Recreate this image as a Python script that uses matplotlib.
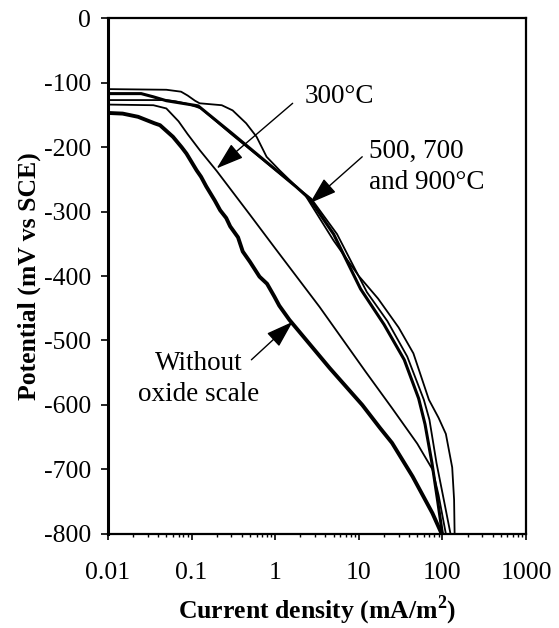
import matplotlib
matplotlib.use("Agg")
import matplotlib.pyplot as plt
from matplotlib.ticker import FixedLocator, FixedFormatter, LogLocator, NullFormatter

plt.rcParams['font.family'] = ['Liberation Serif', 'DejaVu Serif']
plt.rcParams['axes.unicode_minus'] = False
plt.rcParams['mathtext.fontset'] = 'custom'
plt.rcParams['mathtext.rm'] = 'Liberation Serif'
plt.rcParams['mathtext.bf'] = 'Liberation Serif:bold'

# Without oxide scale (thick)
x_none = [0.01, 0.015, 0.023, 0.036, 0.042, 0.06, 0.076, 0.087, 0.115, 0.13, 0.15, 0.19, 0.22, 0.26, 0.29, 0.36, 0.41, 0.5, 0.65, 0.8, 0.98, 1.12, 1.48, 4.5, 11, 18, 25, 44, 76, 98]
y_none = [-147, -148, -153, -163, -166, -184, -200, -210, -236, -246, -261, -283, -298, -310, -323, -340, -362, -378, -401, -412, -432, -446, -468, -543, -600, -636, -659, -711, -768, -800]

# 300 C (thin)
x_300 = [0.01, 0.035, 0.05, 0.07, 0.09, 0.126, 0.2, 0.5, 1, 3.4, 12, 25, 50, 76, 90, 110]
y_300 = [-134, -135, -140, -160, -180, -205, -237, -305, -357, -448, -548, -605, -660, -700, -740, -800]

# 500/700/900 C - thick curve
x_hot1 = [0.01, 0.025, 0.035, 0.05, 0.12, 0.3, 0.8, 1.8, 2.57, 5, 10.5, 20, 35, 52, 62, 75, 88, 100]
y_hot1 = [-117, -117, -122, -128, -136, -178, -224, -262, -280, -335, -420, -475, -530, -590, -630, -690, -750, -800]

# 500/700/900 C - thin curve
x_hot2 = [0.01, 0.05, 0.065, 0.09, 0.13, 0.3, 0.8, 1.8, 2.7, 5.5, 12.5, 22, 38, 60, 70, 85, 105, 125]
y_hot2 = [-127, -127, -129, -133, -140, -180, -225, -262, -280, -335, -425, -470, -525, -592, -623, -690, -750, -800]

# 500/700/900 C - outer thin curve
x_hot3 = [0.01, 0.05, 0.075, 0.09, 0.11, 0.125, 0.23, 0.31, 0.45, 0.6, 0.79, 1.13, 1.6, 2.3, 5, 10, 17, 30, 45, 69, 90, 110, 131, 138, 140]
y_hot3 = [-110, -111, -114, -120, -128, -132, -135, -143, -163, -184, -215, -236, -255, -275, -345, -400, -435, -480, -520, -592, -620, -645, -697, -747, -800]

x_ticks = [0.01, 0.1, 1, 10, 100, 1000]
x_ticklabels = ["0.01", "0.1", "1", "10", "100", "1000"]
y_ticks = [0, -100, -200, -300, -400, -500, -600, -700, -800]

fig = plt.figure(figsize=(5.59, 6.28), dpi=100)
ax = fig.add_axes([0.193, 0.150, 0.748, 0.821])

ax.plot(x_none, y_none, color='black', lw=2.8, solid_joinstyle='round')
ax.plot(x_300, y_300, color='black', lw=1.3)
ax.plot(x_hot1, y_hot1, color='black', lw=2.2)
ax.plot(x_hot2, y_hot2, color='black', lw=1.3)
ax.plot(x_hot3, y_hot3, color='black', lw=1.3)

ax.set_xscale('log')
ax.set_xlim(0.01, 1000)
ax.set_ylim(-800, 0)
ax.xaxis.set_major_locator(FixedLocator(x_ticks))
ax.xaxis.set_major_formatter(FixedFormatter(x_ticklabels))
ax.xaxis.set_minor_locator(LogLocator(base=10, subs=range(2, 10)))
ax.xaxis.set_minor_formatter(NullFormatter())
ax.set_yticks(y_ticks)
ax.set_yticklabels([str(v) for v in y_ticks])

ax.tick_params(axis='x', which='major', labelsize=18.5, direction='out', length=4, width=1.2, pad=16)
ax.tick_params(axis='x', which='minor', direction='out', length=2.5, width=1.0)
ax.tick_params(axis='y', which='major', labelsize=18.5, direction='out', length=5, width=1.2, pad=7)
for s in ax.spines.values():
    s.set_linewidth(1.6)
ax.spines['left'].set_linewidth(2.2)

ax.set_xlabel("Current density (mA/m$^{\\mathbf{2}}$)", fontsize=18.5, fontweight='bold', labelpad=7)
ax.set_ylabel("Potential (mV vs SCE)", fontsize=18.5, fontweight='bold', labelpad=2)

arrow = dict(arrowstyle='-|>,head_length=0.85,head_width=0.28', color='black', lw=1.0,
             mutation_scale=20, shrinkA=0, shrinkB=0)
ax.annotate("", xy=(0.2, -233), xytext=(1.62, -132), arrowprops=arrow)
ax.annotate("", xy=(2.6, -287), xytext=(11, -215), arrowprops=arrow)
ax.annotate("", xy=(1.62, -471), xytext=(0.52, -530), arrowprops=arrow)

ax.text(2.24, -122, "300°C", fontsize=19.5, ha='left', va='center')
ax.text(13.4, -231, "500, 700\nand 900°C", fontsize=19.5, ha='left', va='center', linespacing=1.3)
ax.text(0.122, -560, "Without\noxide scale", fontsize=19.5, ha='center', va='center', linespacing=1.3)

fig.savefig("out.png", dpi=100)
